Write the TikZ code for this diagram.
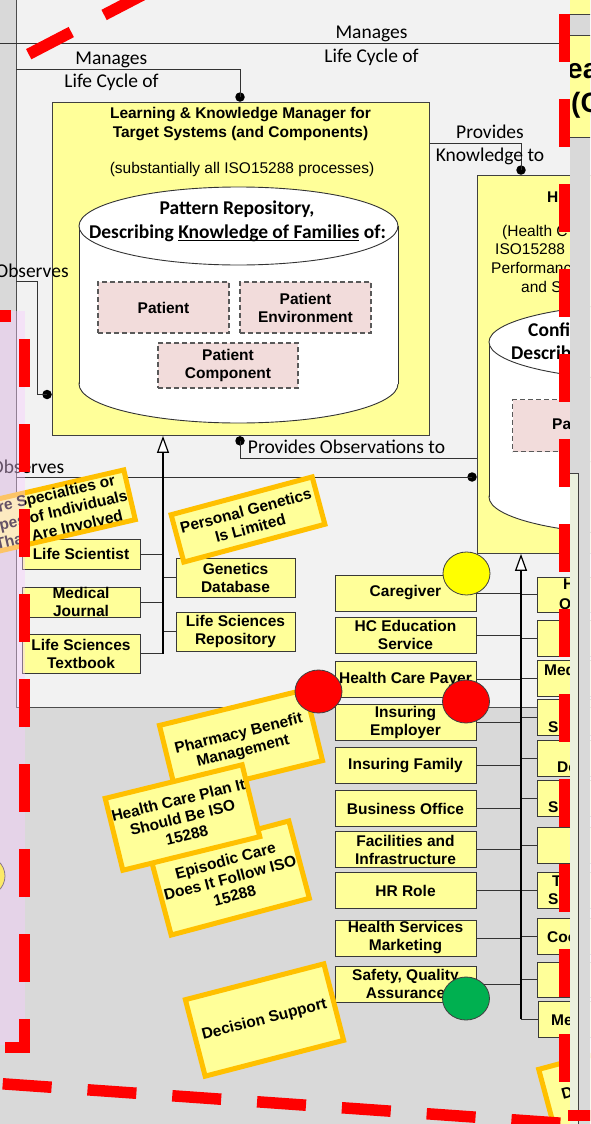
\documentclass[tikz,border=0pt]{standalone}
\usepackage{fontspec}
\setmainfont{Liberation Sans}
\newfontfamily\calfont{Carlito}
\usetikzlibrary{arrows.meta,shapes.geometric}
\definecolor{boxyellow}{HTML}{FFFF99}
\definecolor{noteorange}{HTML}{FFC000}
\definecolor{pinkfill}{HTML}{F2DCDB}
\definecolor{lightbg}{HTML}{F2F2F2}
\definecolor{darkbg}{HTML}{D9D9D9}
\definecolor{lav}{HTML}{F9CCFF}
\definecolor{greenstrip}{HTML}{EBF1DE}
\definecolor{circgreen}{HTML}{00B050}
\definecolor{circyellow}{HTML}{FFFF00}
\newcommand\boxfont{\bfseries\fontsize{15.5}{18}\selectfont}
\newcommand\boxregfont{\fontsize{15.5}{18}\selectfont}
\newcommand\lblfont{\calfont\fontsize{19.5}{22}\selectfont}
\newcommand\cylfont{\calfont\bfseries\fontsize{19.5}{22}\selectfont}
\newcommand\bigtitlefont{\bfseries\fontsize{28}{32}\selectfont}
\newcommand\myul[1]{\setbox0=\hbox{#1}\rlap{\rule[-3pt]{\wd0}{1.1pt}}\box0\relax}
\begin{document}
\begin{tikzpicture}[x=1pt,y=-1pt,
  ybox/.style={draw=black!78, fill=boxyellow, line width=0.9pt, inner sep=0pt, align=center, font=\boxfont},
  pinkbox/.style={draw=black!65, fill=pinkfill, line width=1.1pt, dash pattern=on 5pt off 3pt, inner sep=0pt, align=center, font=\boxfont},
  notebox/.style={draw=noteorange, fill=boxyellow, line width=5pt, inner sep=0pt, align=center, font=\boxfont},
  lbl/.style={font=\lblfont, inner sep=0pt, anchor=base},
  txt/.style={inner sep=0pt, anchor=base west},
  conn/.style={draw=black!80, line width=0.85pt},
  trunk/.style={draw=black, line width=1.7pt, -{Triangle[length=17pt,width=12pt,fill=white,line width=1.2pt]}},
  dotc/.style={circle, fill=black, inner sep=0pt, minimum size=9.5pt},
  circ/.style={ellipse, draw=black!75, line width=0.8pt, minimum width=47pt, minimum height=43pt, inner sep=0pt},
  reddash/.style={draw=red, line width=11.5pt, dash pattern=on 48pt off 37pt},
]
\useasboundingbox (0,0) rectangle (590,1124);
\clip (0,0) rectangle (590,1124);
% backgrounds
\fill[darkbg] (0,0) rectangle (590,1124);
\fill[lightbg] (16,-10) rectangle (600,707);
\draw[black!70, line width=0.9pt] (16,-10) -- (16,707) -- (600,707);

% Learning & Knowledge Manager
\node[draw=black!75, fill=boxyellow, line width=0.9pt, minimum width=377pt, minimum height=333pt, anchor=north west, inner sep=0pt] (lkm) at (52,102) {};
\node[font=\boxfont, anchor=base, inner sep=0pt] (lkmt1) at (240.5,118) {Learning \& Knowledge Manager for};
\node[font=\boxfont, anchor=base, inner sep=0pt] (lkmt2) at (240.5,137) {Target Systems (and Components)};
\node[font=\boxregfont, anchor=base, inner sep=0pt] (lkmt3) at (242,173) {(substantially all ISO15288 processes)};
% cylinder
\draw[black!80, fill=white, line width=0.9pt] (238.5,384) ellipse [x radius=159.5, y radius=39];
\fill[white] (79,226) rectangle (398,384);
\draw[black!80, line width=0.9pt] (79,226) -- (79,384);
\draw[black!80, line width=0.9pt] (398,226) -- (398,384);
\draw[black!80, fill=white, line width=0.9pt] (238.5,226) ellipse [x radius=159.5, y radius=39];
\node[font=\cylfont, anchor=base, inner sep=0pt] (cyl1) at (237,214) {Pattern Repository,};
\node[font=\cylfont, anchor=base, inner sep=0pt] (cyl2) at (237.5,238) {Describing \myul{Knowledge of Families} of:};
\node[pinkbox, minimum width=131pt, minimum height=51pt] (pat) at (163.5,307.5) {Patient};
\node[pinkbox, minimum width=131pt, minimum height=51pt] (penv) at (305.5,307.5) {Patient\\Environment};
\node[pinkbox, minimum width=140pt, minimum height=45pt] (pcomp) at (228,365.5) {Patient\\Component};

% Health care box (partly hidden)
\node[draw=black!75, fill=boxyellow, line width=0.9pt, minimum width=200pt, minimum height=378pt, anchor=north west, inner sep=0pt] (hbox) at (477,175) {};
\node[txt, font=\boxfont] (ht1) at (547,202.7) {H};
\node[txt, font=\boxregfont] (ht2) at (502,236) {(Health C};
\node[txt, font=\boxregfont] (ht3) at (495,254.3) {ISO15288};
\node[txt, font=\boxregfont] (ht4) at (491,273.3) {Performanc};
\node[txt, font=\boxregfont] (ht5) at (521,292.3) {and S};
\draw[black!80, fill=white, line width=0.9pt] (650,497) ellipse [x radius=161, y radius=38];
\fill[white] (489,342) rectangle (811,497);
\draw[black!80, line width=0.9pt] (489,342) -- (489,497);
\draw[black!80, fill=white, line width=0.9pt] (650,342) ellipse [x radius=161, y radius=38];
\node[txt, font=\cylfont] (hc1) at (528,336) {Confi};
\node[txt, font=\cylfont] (hc2) at (511,359) {Describ};
\node[pinkbox, minimum width=140pt, minimum height=52pt, anchor=north west] (hpat) at (512,399) {};
\node[txt, font=\boxfont] (hpatt) at (552,429) {Pa};

% connectors
\coordinate (m2s) at (0,43);
\coordinate (m2e) at (575,43);
\draw[conn] (m2s) -- (m2e);
\coordinate (m1s) at (16,69);
\coordinate (m1c) at (240,69);
\node[dotc, anchor=south] (m1d) at (lkm.north -| m1c) {};
\draw[conn] (m1s) -- (m1c) -- (m1d.center);
\coordinate (pk) at (521,143);
\node[dotc, anchor=south] (pkd) at (hbox.north -| pk) {};
\draw[conn] (lkm.east |- pk) -- (pk) -- (pkd.center);
\coordinate (o1s) at (16,281);
\coordinate (o1a) at (37,281);
\coordinate (o1b) at (37,394.5);
\node[dotc, anchor=east] (o1d) at (lkm.west |- o1b) {};
\draw[conn] (o1s) -- (o1a) -- (o1b) -- (o1d.center);
\node[dotc, anchor=north] (pod) at (lkm.south -| m1c) {};
\coordinate (poa) at (240,458);
\draw[conn] (pod.center) -- (poa) -- (hbox.west |- poa);
\coordinate (o2s) at (16,477);
\node[dotc, anchor=east] (o2d) at (hbox.west |- o2s) {};
\draw[conn] (o2s) -- (o2d.center);

% left knowledge sources
\node[ybox, minimum width=118pt, minimum height=30pt] (ls) at (81,554) {Life Scientist};
\node[ybox, minimum width=118pt, minimum height=30pt] (mj) at (81,602) {Medical\\Journal};
\node[ybox, minimum width=118pt, minimum height=39pt] (lst) at (81,653.5) {Life Sciences\\Textbook};
\node[ybox, minimum width=119pt, minimum height=39pt] (gd) at (235.5,577.5) {Genetics\\Database};
\node[ybox, minimum width=119pt, minimum height=39pt] (lsr) at (235.5,631.5) {Life Sciences\\Repository};
\coordinate (tL) at (163,653.5);
\draw[conn] (ls.east) -- (ls.east -| tL);
\draw[conn] (mj.east) -- (mj.east -| tL);
\draw[conn] (lst.east) -- (lst.east -| tL);
\draw[conn] (gd.west -| tL) -- (gd.west);
\draw[conn] (lsr.west -| tL) -- (lsr.west);
\draw[trunk] (tL) -- (tL |- lkm.south);

% health care roles
\node[ybox, minimum width=141pt, minimum height=36pt] (care) at (405.5,593) {Caregiver};
\node[ybox, minimum width=141pt, minimum height=36pt] (hced) at (405.5,635) {HC Education\\Service};
\node[ybox, minimum width=141pt, minimum height=36pt] (hcpay) at (405.5,679) {Health Care Payer};
\node[ybox, minimum width=141pt, minimum height=36pt] (iemp) at (405.5,722) {Insuring\\Employer};
\node[ybox, minimum width=141pt, minimum height=36pt] (ifam) at (405.5,765.5) {Insuring Family};
\node[ybox, minimum width=141pt, minimum height=36pt] (bo) at (405.5,808.5) {Business Office};
\node[ybox, minimum width=141pt, minimum height=36pt] (fi) at (405.5,849.5) {Facilities and\\Infrastructure};
\node[ybox, minimum width=141pt, minimum height=36pt] (hr) at (405.5,890.5) {HR Role};
\node[ybox, minimum width=141pt, minimum height=36pt] (hsm) at (405.5,938) {Health Services\\Marketing};
\node[ybox, minimum width=141pt, minimum height=36pt] (sqa) at (405.5,984) {Safety, Quality\\Assurance};
\coordinate (tR) at (521,1019);
\foreach \n in {care,hced,hcpay,iemp,ifam,bo,fi,hr,hsm,sqa}{\draw[conn] (\n.east) -- (\n.east -| tR);}
\node[ybox, minimum width=140pt, minimum height=35pt, anchor=west] (r1) at (537,594.5) {};
\node[ybox, minimum width=140pt, minimum height=36pt, anchor=west] (r2) at (537,638) {};
\node[ybox, minimum width=140pt, minimum height=36pt, anchor=west] (r3) at (537,678) {};
\node[ybox, minimum width=140pt, minimum height=36pt, anchor=west] (r4) at (537,717) {};
\node[ybox, minimum width=140pt, minimum height=36pt, anchor=west] (r5) at (537,758) {};
\node[ybox, minimum width=140pt, minimum height=36pt, anchor=west] (r6) at (537,798) {};
\node[ybox, minimum width=140pt, minimum height=36pt, anchor=west] (r7) at (537,845) {};
\node[ybox, minimum width=140pt, minimum height=36pt, anchor=west] (r8) at (537,890) {};
\node[ybox, minimum width=140pt, minimum height=36pt, anchor=west] (r9) at (537,936) {};
\node[ybox, minimum width=140pt, minimum height=35pt, anchor=west] (r10) at (537,979.5) {};
\node[ybox, minimum width=140pt, minimum height=36pt, anchor=west] (r11) at (538,1019) {};
\foreach \n in {r1,r2,r3,r4,r5,r6,r7,r8,r9,r10,r11}{\draw[conn] (\n.west -| tR) -- (\n.west);}
\draw[trunk] (tR) -- (tR |- hbox.south);
\node[txt, font=\boxfont] (r1a) at (563,589) {H};
\node[txt, font=\boxfont] (r1b) at (559,609) {O};
\node[txt, font=\boxfont] (r3a) at (544,675) {Med};
\node[txt, font=\boxfont] (r4a) at (548,732) {S};
\node[txt, font=\boxfont] (r5a) at (557,772) {De};
\node[txt, font=\boxfont] (r6a) at (548,812) {S};
\node[txt, font=\boxfont] (r8a) at (552,886) {T};
\node[txt, font=\boxfont] (r8b) at (548,904) {S};
\node[txt, font=\boxfont] (r9a) at (547,942) {Coo};
\node[txt, font=\boxfont] (r11a) at (551,1025) {Me};

% connector labels
\node[lbl] (lm1a) at (111.3,65) {Manages};
\node[lbl] (lm1b) at (111.5,88) {Life Cycle of};
\node[lbl] (lm2a) at (371.5,39) {Manages};
\node[lbl] (lm2b) at (371.5,63) {Life Cycle of};
\node[lbl] (lpk1) at (490,138) {Provides};
\node[lbl] (lpk2) at (490,161.5) {Knowledge to};
\node[lbl] (lpo) at (346.5,453) {Provides Observations to};
\node[lbl] (lo1) at (32,277.7) {Observes};
\node[lbl] (lo2) at (27.5,473) {Observes};

% sticky notes
\node[notebox, rotate=13, minimum width=153pt, minimum height=51pt] (nspec) at (55,512) {Are Specialties or\\Types of Individuals\\That Are Involved};
\node[notebox, rotate=15, minimum width=146pt, minimum height=49pt] (npg) at (248,519.5) {Personal Genetics\\Is Limited};
\node[notebox, rotate=13.8, minimum width=150pt, minimum height=73pt] (npbm) at (241,743) {Pharmacy Benefit\\Management};
\node[notebox, rotate=14.9, minimum width=143pt, minimum height=80pt] (nepi) at (230,878) {Episodic Care\\Does It Follow ISO\\15288};
\node[notebox, rotate=13.8, minimum width=141pt, minimum height=74pt] (nhcp) at (182.5,817.5) {Health Care Plan It\\Should Be ISO\\15288};
\node[notebox, rotate=14.5, minimum width=143pt, minimum height=79pt] (nds) at (264.5,1020) {Decision Support};
\node[notebox, rotate=15, minimum width=143pt, minimum height=79pt] (nd) at (618,1089) {};
\node[txt, font=\boxfont, rotate=15] (ndt) at (563,1100) {D};

% status circles
\node[circ, fill=circyellow] (c1) at (466.5,573.5) {};
\node[circ, fill=red] (c2) at (318.5,691.5) {};
\node[circ, fill=red] (c3) at (466,701.5) {};
\node[circ, fill=circgreen] (c4) at (466,998.5) {};
\node[circ, fill=circyellow] (c5) at (-18.5,876) {};

% lavender overlay
\fill[lav, opacity=0.4] (-5,311) rectangle (25,1045);

% right-hand overlay
\begin{scope}
\clip (570,-10) rectangle (600,1130);
\fill[darkbg] (560,-10) rectangle (600,1130);
\draw[fill=boxyellow, draw=black!75, line width=0.9pt] (565,-10) rectangle (600,14);
\draw[fill=boxyellow, draw=black!75, line width=0.9pt] (565,35) rectangle (600,137);
\node[txt, font=\bigtitlefont] (rt1) at (567,78) {ea};
\node[txt, font=\bigtitlefont] (rt2) at (571,112) {(C};
\draw[fill=greenstrip, draw=black!75, line width=0.9pt] (560,473) rectangle (578.5,1130);
\end{scope}

% red dashed highlight lines
\draw[reddash] (-37.5,316) -- (24.5,316) -- (24.5,1047.5) -- (-60,1047.5);
\draw[reddash] (564.5,14) -- (564.5,1115.5) -- (700,1115.5);
\draw[reddash] (28.7,54.2) -- ++(266,-138.5);
\draw[reddash, dash pattern=on 49pt off 36pt] (2.7,1083.8) -- (700,1133);
\end{tikzpicture}
\end{document}
